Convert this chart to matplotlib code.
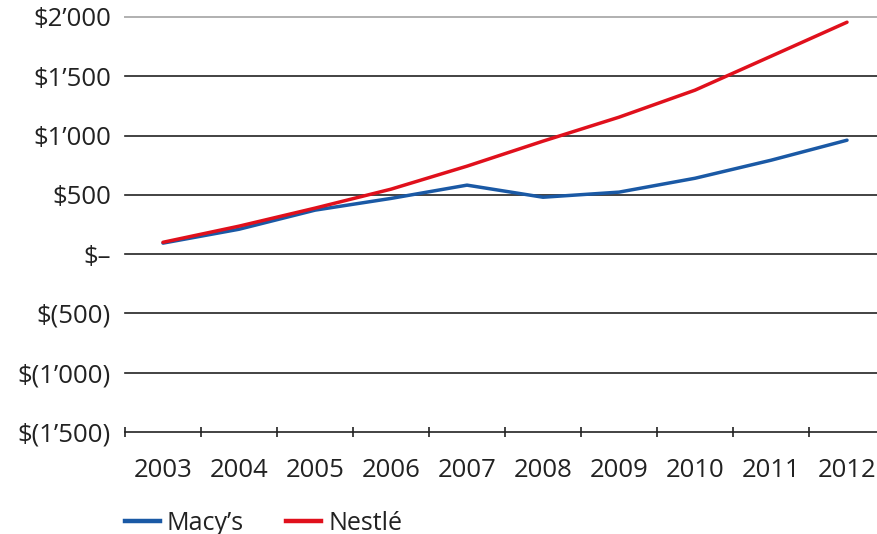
import matplotlib.pyplot as plt
from matplotlib.lines import Line2D

years = ["2003", "2004", "2005", "2006", "2007", "2008", "2009", "2010", "2011", "2012"]
macys = [93, 210, 371, 470, 582, 480, 523, 640, 792, 961]
nestle = [100, 236, 388, 548, 742, 953, 1155, 1383, 1669, 1956]
y_ticks = [2000, 1500, 1000, 500, 0, -500, -1000, -1500]
y_labels = ["$2\u2019000", "$1\u2019500", "$1\u2019000", "$500", "$\u2013",
            "$(500)", "$(1\u2019000)", "$(1\u2019500)"]

blue = "#1a59a5"
red = "#e0101c"

plt.rcParams["font.family"] = ["Open Sans", "DejaVu Sans"]

fig = plt.figure(figsize=(8.77, 5.34), dpi=100)
ax = fig.add_axes([125 / 877, 1 - 432 / 534, 760 / 877, 415 / 534])

x = list(range(len(years)))
ax.plot(x, macys, color=blue, lw=2.5, solid_capstyle="round", zorder=3)
ax.plot(x, nestle, color=red, lw=2.5, solid_capstyle="round", zorder=4)

ax.set_xlim(-0.5, len(years) - 0.5)
ax.set_ylim(-1500, 2000)

# horizontal grid lines
for v in y_ticks:
    if v == 2000:
        ax.axhline(v, color="#b0b0b0", lw=1.4, zorder=1, clip_on=False)
    else:
        ax.axhline(v, color="#222222", lw=1.2, zorder=1, clip_on=False)

for s in ax.spines.values():
    s.set_visible(False)

ax.set_yticks(y_ticks)
ax.set_yticklabels(y_labels, fontsize=18.5, color="#222222")
ax.tick_params(axis="y", length=0, pad=10)

# category labels, tick marks between categories
ax.set_xticks(x)
ax.set_xticklabels(years, fontsize=18.5, color="#222222")
ax.tick_params(axis="x", which="major", length=0, pad=19)
ax.set_xticks([i - 0.5 for i in range(len(years) + 1)], minor=True)
ax.tick_params(axis="x", which="minor", direction="inout", length=7, width=1.2, color="#222222")

handles = [Line2D([], [], color=blue, lw=3.2), Line2D([], [], color=red, lw=3.2)]
fig.legend(handles, ["Macy\u2019s", "Nestl\u00e9"], loc="lower left",
           bbox_to_anchor=(102 / 877, -0.045), ncol=2, frameon=False,
           fontsize=18, handlelength=1.4, handletextpad=0.28, columnspacing=1.7,
           labelcolor="#222222")

fig.savefig("out.png", dpi=100)
